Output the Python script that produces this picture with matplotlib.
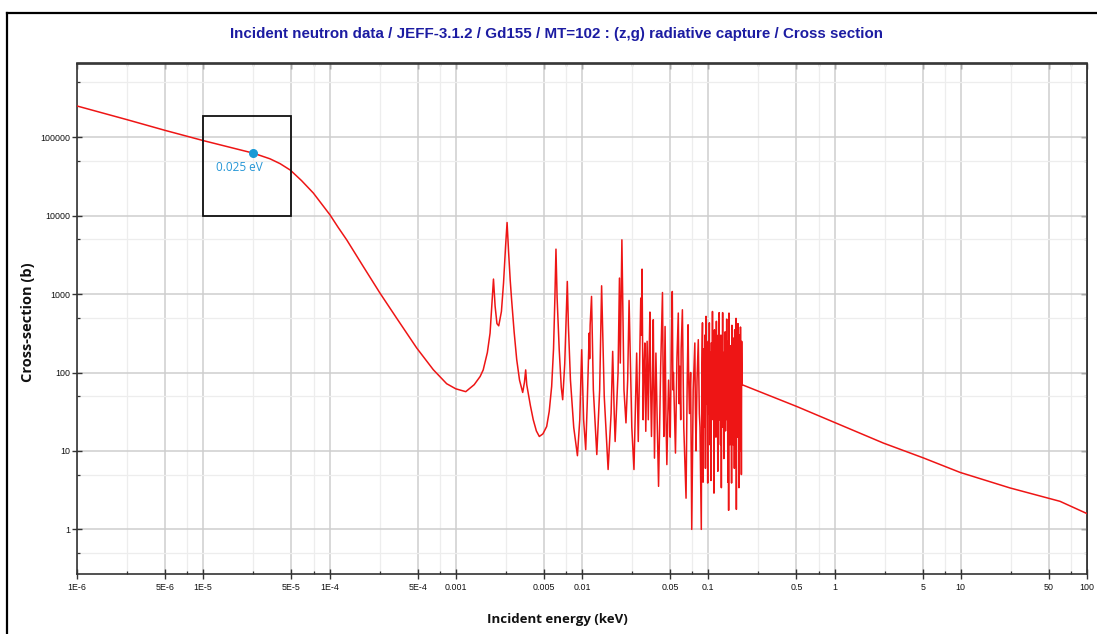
import matplotlib
matplotlib.use("Agg")
import matplotlib.pyplot as plt
from matplotlib.ticker import FixedLocator, FixedFormatter, NullFormatter
from matplotlib.patches import Rectangle
from matplotlib.lines import Line2D

# ---------------- data ----------------
# smooth 1/v part and first resolved resonances (energy in keV, cross section in barns)
energy_low = [1e-6, 2.5e-6, 5e-6, 1e-5, 2.5e-5, 3.38e-5, 4.06e-5, 4.9e-5, 6.0e-5, 7.45e-5,
              8.67e-5, 1.01e-4, 1.17e-4, 1.37e-4, 1.85e-4, 2.51e-4, 3.4e-4, 4.91e-4, 6.64e-4,
              8.47e-4,
              1.0e-3, 1.2e-3, 1.4e-3, 1.56e-3, 1.65e-3, 1.78e-3, 1.87e-3, 1.94e-3, 1.99e-3,
              2.05e-3, 2.12e-3, 2.19e-3, 2.3e-3, 2.39e-3, 2.48e-3, 2.55e-3, 2.62e-3, 2.7e-3,
              2.77e-3, 2.9e-3, 3.04e-3, 3.2e-3, 3.39e-3, 3.5e-3, 3.58e-3, 3.65e-3, 3.75e-3,
              3.9e-3, 4.11e-3, 4.35e-3, 4.59e-3, 4.9e-3, 5.25e-3, 5.5e-3, 5.75e-3, 5.95e-3,
              6.1e-3, 6.22e-3, 6.35e-3, 6.6e-3, 6.85e-3, 7.03e-3, 7.3e-3, 7.5e-3, 7.65e-3,
              7.8e-3, 8.1e-3, 8.6e-3, 9.2e-3, 9.6e-3, 9.94e-3, 1.03e-2, 1.07e-2]
xs_low = [2.5e5, 1.67e5, 1.22e5, 9.05e4, 6.25e4, 5.3e4, 4.6e4, 3.8e4, 2.8e4, 1.94e4,
          1.41e4, 1.02e4, 7.1e3, 4.9e3, 2.25e3, 1030, 494, 205, 108.6,
          72,
          62, 57, 70, 89, 108, 180, 318, 800, 1553,
          700, 420, 394, 600, 1380, 4000, 8170, 3500, 1500,
          845, 330, 146, 80, 55.7, 75, 108, 70, 54.6,
          38, 25, 18, 15.3, 16.5, 20.5, 32, 66.5, 200,
          900, 3740, 900, 195, 65, 45, 130, 500, 1448,
          400, 80, 20, 8.7, 25, 195, 25, 10.4]

# many overlapping resonances up to the end of the resolved range
energy_res = [1.1e-2, 1.14e-2, 1.15e-2, 1.16e-2, 1.19e-2, 1.23e-2, 1.31e-2, 1.38e-2, 1.43e-2,
              1.5e-2, 1.61e-2, 1.7e-2, 1.75e-2, 1.8e-2, 1.83e-2, 1.93e-2, 1.98e-2, 2.01e-2,
              2.07e-2, 2.15e-2, 2.23e-2, 2.3e-2, 2.36e-2, 2.48e-2, 2.58e-2, 2.71e-2, 2.79e-2,
              2.92e-2, 2.95e-2, 2.99e-2, 3.05e-2, 3.1e-2, 3.15e-2, 3.2e-2, 3.28e-2, 3.35e-2,
              3.4e-2, 3.45e-2, 3.5e-2, 3.55e-2, 3.62e-2, 3.67e-2, 3.72e-2, 3.75e-2, 3.85e-2,
              3.95e-2, 4.04e-2, 4.2e-2, 4.34e-2, 4.4e-2, 4.45e-2, 4.55e-2, 4.62e-2, 4.7e-2,
              4.85e-2, 4.95e-2, 5.0e-2, 5.1e-2, 5.19e-2, 5.25e-2, 5.3e-2, 5.4e-2, 5.5e-2,
              5.65e-2, 5.79e-2, 5.88e-2, 5.95e-2, 6.05e-2, 6.1e-2, 6.24e-2, 6.4e-2, 6.67e-2,
              6.8e-2, 6.92e-2, 7.0e-2, 7.1e-2, 7.25e-2, 7.4e-2, 7.6e-2, 7.83e-2, 7.9e-2,
              8.0e-2, 8.15e-2, 8.34e-2, 8.5e-2, 8.6e-2, 8.81e-2]
xs_res = [40, 318, 150, 400, 933, 60, 9.0, 60, 1275,
          50, 5.8, 30, 186, 30, 13.2, 100, 1600, 132,
          4920, 60, 22.8, 80, 829, 20, 5.8, 177, 13.2,
          889, 300, 2080, 25, 120, 238, 17.8, 250, 25,
          150, 590, 60, 15.3, 90, 471, 40, 8.1, 177,
          20, 3.54, 120, 1047, 60, 15.3, 386, 30, 6.7,
          80, 30, 15, 200, 1079, 60, 100, 30, 9.4,
          150, 573, 40, 120, 25, 200, 631, 20, 2.5,
          60, 406, 80, 30, 100, 1.0, 60, 238, 40,
          10, 80, 262, 30, 20, 1.0]

# densest part, 0.089 - 0.185 keV
energy_dense = [0.089, 0.090, 0.091, 0.092, 0.093, 0.094, 0.095, 0.096, 0.097, 0.098,
                0.099, 0.100, 0.101, 0.102, 0.103, 0.104, 0.105, 0.106, 0.107, 0.108,
                0.109, 0.110, 0.111, 0.112, 0.113, 0.114, 0.115, 0.116, 0.117, 0.118,
                0.119, 0.120, 0.121, 0.122, 0.123, 0.124, 0.125, 0.126, 0.127, 0.128,
                0.129, 0.130, 0.131, 0.132, 0.133, 0.134, 0.135, 0.136, 0.137, 0.138,
                0.139, 0.140, 0.141, 0.142, 0.143, 0.144, 0.145, 0.146, 0.147, 0.148,
                0.149, 0.150, 0.151, 0.152, 0.153, 0.154, 0.155, 0.156, 0.157, 0.158,
                0.159, 0.160, 0.161, 0.162, 0.163, 0.164, 0.165, 0.166, 0.167, 0.168,
                0.169, 0.170, 0.171, 0.172, 0.173, 0.174, 0.175, 0.176, 0.177, 0.178,
                0.179, 0.180, 0.181, 0.182, 0.183, 0.184, 0.185]
xs_dense = [120, 430, 4, 200, 20, 300, 6, 520, 40, 150,
            3.9, 250, 30, 430, 12, 180, 4.2, 240, 25, 600,
            35, 160, 2.9, 350, 20, 120, 15, 450, 40, 200,
            5.5, 300, 30, 580, 25, 140, 12, 300, 3.4, 250,
            45, 580, 20, 180, 8, 120, 30, 330, 18, 200,
            50, 480, 25, 150, 4, 250, 1.75, 573, 30, 160,
            12, 220, 40, 130, 3.9, 400, 25, 150, 12, 275,
            35, 200, 6, 350, 22, 140, 8, 490, 1.8, 120,
            30, 250, 15, 420, 40, 160, 3.4, 300, 20, 130,
            10, 380, 25, 200, 5, 250, 70]

# smooth high-energy part
energy_high = [0.5, 1.0, 2.44, 5.06, 9.87, 24.5, 61.1, 100.0]
xs_high = [37, 23.1, 12.6, 8.15, 5.33, 3.38, 2.28, 1.59]

energy = energy_low + energy_res + energy_dense + energy_high
xs = xs_low + xs_res + xs_dense + xs_high

x_major = [1e-6, 5e-6, 1e-5, 5e-5, 1e-4, 5e-4, 1e-3, 5e-3, 1e-2, 5e-2, 1e-1, 5e-1, 1, 5, 10, 50, 100]
x_labels = ["1E-6", "5E-6", "1E-5", "5E-5", "1E-4", "5E-4", "0.001", "0.005", "0.01", "0.05",
            "0.1", "0.5", "1", "5", "10", "50", "100"]
x_minor = [m * 10.0 ** d for d in range(-6, 2) for m in (2.5, 7.5)]
y_major = [1, 10, 100, 1000, 10000, 100000]
y_labels = ["1", "10", "100", "1000", "10000", "100000"]
y_minor = [0.5, 5, 50, 500, 5000, 50000, 500000]

thermal_E = 2.5e-5
thermal_xs = 6.25e4
thermal_label = "0.025 eV"
box_E = (1e-5, 5e-5)
box_xs = (1e4, 1.87e5)

title = "Incident neutron data / JEFF-3.1.2 / Gd155 / MT=102 : (z,g) radiative capture / Cross section"
xlabel = "Incident energy (keV)"
ylabel = "Cross-section (b)"

# ---------------- figure ----------------
W, H = 1097, 634
fig = plt.figure(figsize=(W / 100, H / 100), dpi=100)
ax = fig.add_axes([77 / W, 1 - 574 / H, (1087 - 77) / W, (574 - 63.5) / H])

ax.set_xscale("log")
ax.set_yscale("log")
ax.set_xlim(1e-6, 100)
ax.set_ylim(0.27, 8.7e5)

ax.plot(energy, xs, color="#ee1515", lw=1.1, zorder=3)

# thermal marker and box
ax.add_patch(Rectangle((box_E[0], box_xs[0]), box_E[1] - box_E[0], box_xs[1] - box_xs[0],
                       fill=False, ec="#111111", lw=1.3, zorder=4))
ax.plot([thermal_E], [thermal_xs], "o", color="#1a9ad6", ms=5.5, zorder=5)
ax.text(1.95e-5, 4.07e4, thermal_label, color="#2596d6", fontsize=8.5, family="Open Sans",
        ha="center", va="center", zorder=5)

# ticks
ax.xaxis.set_major_locator(FixedLocator(x_major))
ax.xaxis.set_major_formatter(FixedFormatter(x_labels))
ax.xaxis.set_minor_locator(FixedLocator(x_minor))
ax.xaxis.set_minor_formatter(NullFormatter())
ax.yaxis.set_major_locator(FixedLocator(y_major))
ax.yaxis.set_major_formatter(FixedFormatter(y_labels))
ax.yaxis.set_minor_locator(FixedLocator(y_minor))
ax.yaxis.set_minor_formatter(NullFormatter())
for lab in ax.get_xticklabels() + ax.get_yticklabels():
    lab.set_fontfamily("Liberation Sans")
    lab.set_fontsize(6.4)
    lab.set_color("#111111")
ax.tick_params(which="major", direction="inout", length=6.5, width=1.0, color="#333333",
               labelsize=6.4, labelcolor="#111111")
ax.tick_params(axis="x", which="major", pad=3.5)
ax.tick_params(axis="y", which="major", pad=1.5)
ax.tick_params(which="minor", direction="in", length=2.5, width=0.9, color="#333333")

# top / right inward ticks
secx = ax.secondary_xaxis("top")
secx.xaxis.set_major_locator(FixedLocator(x_major))
secx.xaxis.set_minor_locator(FixedLocator(x_minor))
secx.xaxis.set_major_formatter(NullFormatter())
secx.xaxis.set_minor_formatter(NullFormatter())
secx.tick_params(which="major", direction="in", length=4, width=1.0, color="#333333")
secx.tick_params(which="minor", direction="in", length=2.5, width=0.9, color="#333333")
secy = ax.secondary_yaxis("right")
secy.yaxis.set_major_locator(FixedLocator(y_major))
secy.yaxis.set_minor_locator(FixedLocator(y_minor))
secy.yaxis.set_major_formatter(NullFormatter())
secy.yaxis.set_minor_formatter(NullFormatter())
secy.tick_params(which="major", direction="in", length=4, width=1.0, color="#333333")
secy.tick_params(which="minor", direction="in", length=2.5, width=0.9, color="#333333")
for s in list(ax.spines.values()) + [secx.spines["top"], secy.spines["right"]]:
    s.set_color("#333333")
    s.set_linewidth(1.2)

# grid
ax.grid(which="major", color="#cecece", lw=1.1, zorder=0)
ax.grid(which="minor", color="#ededed", lw=0.9, zorder=0)
ax.set_axisbelow(True)

# texts
fig.text(557 / W, 1 - 34 / H, title, ha="center", va="center", color="#1c1ca2",
         fontsize=10.9, fontweight="bold", family="Liberation Sans")
fig.text(557 / W, 1 - 619 / H, xlabel, ha="center", va="center", color="#111111",
         fontsize=9.5, fontweight="bold", family="Open Sans")
fig.text(28 / W, 1 - 322 / H, ylabel, ha="center", va="center", color="#111111",
         fontsize=10.5, fontweight="bold", family="Open Sans", rotation=90)

# outer frame of the screenshot
fig.add_artist(Line2D([7 / W, 7 / W], [0, 1 - 13 / H], transform=fig.transFigure,
                      color="black", lw=1.6))
fig.add_artist(Line2D([7 / W, 1], [1 - 13 / H, 1 - 13 / H], transform=fig.transFigure,
                      color="black", lw=1.6))

fig.savefig("out.png", dpi=100)
